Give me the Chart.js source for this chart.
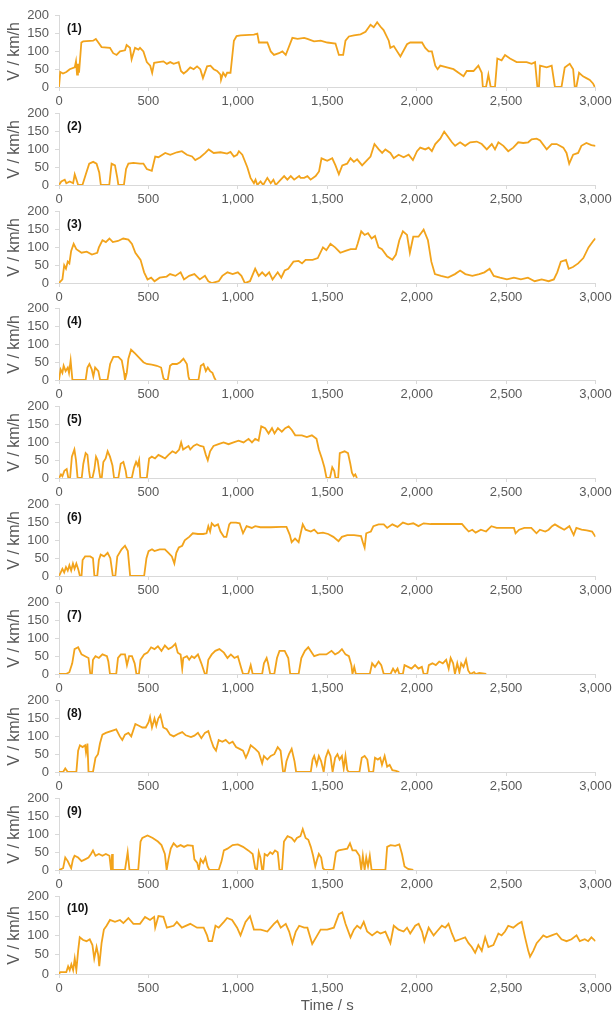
<!DOCTYPE html>
<html><head><meta charset="utf-8">
<script src="https://cdn.jsdelivr.net/npm/chart.js@4"></script>
<style>
html,body{margin:0;padding:0;background:#fff;overflow:hidden;width:613px;height:1015px;position:relative}
canvas{position:absolute;left:0}
</style></head><body>
<script>
// Speed (km/h) vs time (s) for ten driving cycles as [time, speed]
const cycle1=[[0,0],[7,42],[22,38],[41,42],[60,50],[88,55],[95,72],[101,35],[106,65],[112,40],[125,125],[135,128],[191,130],[206,135],[220,125],[238,112],[285,110],[303,95],[322,90],[341,100],[369,103],[378,118],[397,110],[406,78],[416,95],[425,110],[444,105],[453,110],[472,100],[491,70],[510,60],[521,40],[532,68],[556,70],[584,72],[603,65],[622,70],[641,65],[669,70],[682,45],[697,38],[715,45],[734,55],[753,50],[772,58],[790,50],[805,25],[828,58],[847,60],[865,50],[884,45],[903,35],[906,20],[918,40],[931,30],[940,40],[959,40],[978,130],[993,143],[1015,145],[1090,147],[1109,150],[1118,125],[1165,125],[1184,100],[1202,90],[1230,95],[1249,100],[1268,90],[1305,138],[1334,135],[1371,138],[1389,135],[1426,128],[1463,130],[1500,125],[1546,122],[1565,90],[1589,90],[1602,130],[1621,142],[1649,145],[1686,148],[1714,155],[1742,175],[1760,168],[1779,182],[1797,170],[1815,160],[1844,130],[1853,110],[1872,115],[1909,86],[1946,120],[1964,125],[2030,125],[2048,110],[2067,100],[2085,100],[2104,60],[2117,50],[2132,60],[2169,55],[2206,50],[2234,40],[2262,30],[2280,45],[2318,45],[2345,60],[2364,40],[2370,0],[2388,0],[2401,35],[2414,0],[2438,0],[2451,80],[2475,75],[2494,90],[2522,80],[2559,70],[2615,70],[2643,65],[2662,70],[2675,0],[2684,0],[2690,60],[2727,55],[2755,60],[2773,0],[2810,0],[2828,55],[2856,65],[2875,50],[2884,0],[2893,0],[2908,40],[2930,30],[2949,25],[2968,20],[2986,10],[2996,0]];
const cycle2=[[0,0],[13,10],[32,15],[41,5],[60,10],[79,5],[88,30],[101,10],[107,0],[131,0],[150,30],[169,60],[191,65],[210,60],[225,35],[234,0],[281,0],[294,60],[313,55],[326,20],[332,0],[363,0],[375,45],[388,60],[416,62],[453,60],[472,60],[491,45],[519,40],[538,80],[556,78],[594,90],[622,85],[659,92],[687,95],[715,85],[744,80],[762,70],[790,78],[818,90],[837,100],[865,90],[903,92],[940,88],[959,93],[978,80],[996,85],[1006,95],[1025,85],[1053,50],[1071,20],[1090,5],[1099,15],[1109,0],[1127,10],[1142,0],[1165,20],[1184,5],[1199,15],[1212,0],[1240,15],[1259,25],[1277,15],[1296,25],[1315,15],[1343,25],[1351,20],[1371,20],[1389,25],[1407,15],[1435,25],[1454,38],[1468,75],[1500,68],[1528,75],[1546,55],[1565,30],[1584,55],[1611,60],[1630,75],[1649,65],[1667,72],[1695,55],[1723,70],[1742,80],[1764,115],[1788,100],[1807,90],[1825,100],[1853,90],[1872,75],[1899,85],[1927,78],[1955,85],[1979,70],[2002,95],[2020,105],[2048,100],[2067,105],[2085,95],[2104,115],[2132,130],[2154,150],[2169,140],[2197,120],[2215,110],[2243,120],[2271,110],[2299,120],[2336,122],[2364,115],[2392,100],[2420,115],[2438,100],[2457,120],[2485,110],[2512,95],[2540,105],[2568,120],[2596,118],[2624,120],[2643,128],[2671,130],[2690,125],[2727,100],[2755,115],[2783,115],[2820,105],[2838,90],[2853,60],[2875,85],[2903,90],[2921,110],[2949,118],[2977,112],[3000,110]];
const cycle3=[[0,0],[19,10],[29,50],[39,40],[49,60],[58,55],[68,90],[82,110],[97,95],[126,85],[155,88],[184,80],[214,85],[223,100],[243,120],[262,115],[282,125],[301,115],[330,118],[359,125],[388,122],[408,110],[427,85],[456,65],[476,30],[495,10],[515,15],[534,5],[563,15],[602,18],[621,25],[651,20],[680,30],[699,10],[728,20],[757,25],[787,10],[816,20],[835,5],[854,0],[893,5],[913,20],[942,30],[971,25],[1000,30],[1020,20],[1039,0],[1068,5],[1097,40],[1117,20],[1136,30],[1155,20],[1175,30],[1194,10],[1223,30],[1243,15],[1262,35],[1282,40],[1311,60],[1340,62],[1359,55],[1379,65],[1418,65],[1447,70],[1476,100],[1495,92],[1518,110],[1544,100],[1573,85],[1602,90],[1631,95],[1660,95],[1670,110],[1690,145],[1709,135],[1728,140],[1748,125],[1767,132],[1787,100],[1806,95],[1835,75],[1864,65],[1884,80],[1903,120],[1923,145],[1946,135],[1962,85],[1981,130],[2010,130],[2039,150],[2063,120],[2082,60],[2102,25],[2136,20],[2175,15],[2214,25],[2243,35],[2272,25],[2311,20],[2350,25],[2379,30],[2408,40],[2431,20],[2466,15],[2505,10],[2544,15],[2583,10],[2622,15],[2660,5],[2699,10],[2738,5],[2767,10],[2786,30],[2806,60],[2835,65],[2850,40],[2874,45],[2903,55],[2932,70],[2961,100],[2990,120],[3000,125]];
const cycle4=[[0,0],[9,30],[19,20],[26,40],[37,25],[49,35],[56,20],[65,55],[75,0],[149,0],[159,35],[170,45],[183,30],[192,10],[202,35],[220,25],[230,0],[271,0],[286,45],[304,65],[332,65],[351,55],[364,20],[369,0],[379,20],[388,60],[403,85],[425,75],[453,60],[472,50],[491,45],[519,43],[547,40],[571,35],[584,5],[593,0],[608,0],[621,40],[634,45],[659,45],[677,50],[696,60],[715,45],[724,10],[730,0],[780,0],[793,40],[808,45],[821,25],[832,35],[845,25],[858,20],[870,5],[877,0]];
const cycle5=[[0,0],[11,10],[19,5],[30,20],[43,25],[52,0],[62,0],[72,60],[86,80],[95,50],[104,0],[127,0],[136,40],[149,70],[159,65],[168,20],[174,0],[187,0],[198,25],[207,60],[216,50],[226,15],[231,0],[239,0],[248,45],[261,55],[272,75],[285,60],[299,35],[308,0],[332,0],[345,40],[360,45],[373,20],[379,0],[407,0],[420,30],[431,45],[440,35],[448,50],[455,0],[491,0],[504,55],[519,60],[537,55],[556,65],[575,60],[593,55],[612,65],[634,75],[653,70],[672,80],[683,100],[694,80],[709,85],[724,90],[734,80],[752,90],[771,95],[790,90],[808,88],[821,65],[832,50],[845,75],[864,90],[892,95],[920,100],[948,95],[976,100],[1004,105],[1032,100],[1060,110],[1079,100],[1097,110],[1116,105],[1131,145],[1153,140],[1172,125],[1191,140],[1205,125],[1224,140],[1246,130],[1265,140],[1284,145],[1302,135],[1321,120],[1358,120],[1386,115],[1414,120],[1440,110],[1453,80],[1470,55],[1484,30],[1496,0],[1515,0],[1528,30],[1539,20],[1546,0],[1561,0],[1570,70],[1597,75],[1616,70],[1629,40],[1638,15],[1648,5],[1657,10],[1666,0]];
const cycle6=[[0,0],[10,10],[19,20],[29,10],[39,25],[49,15],[58,30],[68,15],[78,35],[87,20],[97,35],[107,20],[117,0],[126,0],[132,45],[146,55],[175,55],[190,50],[198,0],[214,0],[223,45],[233,60],[252,55],[272,65],[287,50],[301,0],[315,0],[326,55],[350,75],[369,85],[385,70],[398,0],[476,0],[489,50],[501,70],[520,75],[534,70],[563,75],[592,75],[612,65],[631,55],[645,35],[656,65],[670,80],[689,85],[703,100],[728,110],[748,120],[777,118],[806,118],[825,120],[835,140],[845,125],[854,148],[870,140],[889,145],[903,125],[922,110],[936,110],[952,145],[961,150],[990,150],[1010,148],[1029,120],[1049,140],[1078,135],[1097,140],[1126,137],[1184,137],[1243,138],[1272,138],[1291,115],[1301,95],[1320,105],[1340,95],[1363,145],[1379,130],[1408,125],[1427,130],[1447,120],[1476,122],[1505,118],[1534,110],[1563,98],[1582,110],[1612,115],[1650,115],[1689,112],[1699,95],[1709,80],[1718,120],[1744,125],[1758,140],[1787,145],[1816,145],[1835,135],[1864,145],[1893,138],[1923,150],[1952,145],[1981,148],[2010,140],[2039,148],[2078,146],[2156,146],[2253,146],[2272,135],[2291,125],[2311,130],[2330,122],[2359,130],[2388,125],[2418,140],[2447,135],[2505,135],[2544,135],[2553,120],[2573,130],[2602,135],[2641,135],[2670,120],[2689,130],[2719,125],[2738,130],[2757,140],[2773,145],[2796,138],[2825,130],[2854,140],[2878,115],[2893,135],[2922,130],[2951,128],[2981,125],[3000,110]];
const cycle7=[[0,0],[39,0],[58,5],[74,30],[87,70],[107,75],[126,55],[146,50],[165,45],[175,0],[184,0],[190,40],[204,50],[223,45],[243,55],[268,50],[276,35],[285,0],[320,0],[330,45],[346,55],[369,55],[380,25],[392,50],[408,50],[423,30],[433,0],[447,0],[456,40],[476,55],[495,60],[515,75],[534,70],[553,78],[573,65],[592,80],[612,70],[631,75],[651,85],[664,60],[680,55],[689,15],[695,45],[715,50],[728,40],[742,50],[757,45],[777,55],[796,30],[816,0],[825,0],[835,40],[854,55],[874,65],[897,70],[922,60],[942,45],[961,55],[981,45],[1000,50],[1020,15],[1029,0],[1058,0],[1072,25],[1083,0],[1136,0],[1146,30],[1161,45],[1169,30],[1181,0],[1204,0],[1219,45],[1233,65],[1262,65],[1282,45],[1293,0],[1340,0],[1355,45],[1375,65],[1394,75],[1414,60],[1427,50],[1456,55],[1495,55],[1524,65],[1544,55],[1563,60],[1582,70],[1602,55],[1621,50],[1635,25],[1641,0],[1651,20],[1660,0],[1738,0],[1751,30],[1767,20],[1787,35],[1802,25],[1816,0],[1854,0],[1868,15],[1880,5],[1893,15],[1903,0],[1923,0],[1932,25],[1952,20],[1971,15],[1991,25],[2010,15],[2029,20],[2039,0],[2059,0],[2068,25],[2088,30],[2107,25],[2126,35],[2146,30],[2165,40],[2179,15],[2190,45],[2204,30],[2214,0],[2227,30],[2239,5],[2249,30],[2262,20],[2276,40],[2288,10],[2301,0],[2321,5],[2330,0],[2350,3],[2389,0]];
const cycle8=[[0,0],[23,0],[35,10],[49,0],[97,0],[107,60],[117,75],[132,70],[146,75],[151,55],[159,80],[165,0],[190,0],[204,40],[218,50],[229,80],[243,105],[262,110],[291,115],[320,120],[340,100],[354,90],[369,105],[388,110],[404,100],[427,135],[447,130],[466,125],[485,125],[501,140],[509,155],[520,125],[534,150],[544,130],[555,150],[567,160],[583,125],[602,120],[621,105],[641,100],[670,108],[689,112],[709,103],[738,98],[757,102],[777,110],[796,95],[816,110],[835,115],[850,90],[864,70],[878,60],[893,90],[913,85],[932,90],[952,80],[971,85],[990,70],[1010,65],[1029,60],[1045,40],[1058,55],[1072,75],[1097,65],[1117,55],[1136,25],[1146,45],[1165,35],[1184,45],[1204,50],[1223,70],[1239,60],[1253,0],[1262,0],[1272,30],[1286,50],[1301,65],[1317,30],[1326,0],[1408,0],[1418,35],[1427,45],[1441,20],[1453,45],[1466,30],[1480,0],[1491,40],[1505,60],[1518,45],[1530,0],[1544,40],[1557,50],[1569,35],[1582,45],[1592,10],[1602,45],[1612,5],[1621,0],[1680,0],[1693,40],[1709,45],[1724,35],[1734,0],[1757,0],[1767,40],[1783,35],[1796,40],[1806,20],[1821,45],[1835,15],[1849,20],[1864,5],[1884,3],[1903,0]];
const cycle9=[[0,0],[23,5],[35,35],[49,25],[58,15],[68,5],[78,30],[87,40],[107,35],[126,25],[146,30],[165,35],[179,45],[190,55],[204,40],[223,45],[243,40],[262,45],[282,40],[291,0],[297,45],[301,0],[369,0],[384,50],[394,0],[443,0],[456,80],[466,90],[495,97],[524,90],[553,80],[573,70],[592,45],[602,0],[612,30],[625,60],[641,75],[660,65],[680,70],[699,65],[718,70],[748,68],[757,30],[773,20],[782,0],[792,30],[806,20],[819,35],[831,10],[841,0],[893,0],[909,25],[922,55],[942,60],[971,70],[1000,72],[1029,65],[1058,55],[1083,45],[1097,5],[1107,0],[1117,50],[1126,35],[1136,0],[1142,0],[1150,45],[1165,40],[1181,50],[1194,45],[1208,55],[1223,50],[1233,0],[1247,0],[1258,80],[1278,95],[1301,90],[1317,80],[1330,90],[1350,95],[1363,115],[1379,90],[1394,85],[1408,65],[1421,40],[1433,10],[1441,25],[1453,45],[1466,35],[1476,5],[1486,0],[1534,0],[1549,50],[1563,55],[1592,58],[1612,60],[1627,75],[1641,55],[1660,55],[1680,40],[1690,0],[1699,40],[1709,0],[1718,35],[1728,10],[1738,40],[1748,0],[1825,0],[1835,65],[1854,70],[1880,68],[1903,72],[1918,45],[1932,10],[1952,3],[1981,0]];
const cycle10=[[0,0],[7,5],[41,5],[51,20],[60,10],[69,25],[79,10],[88,40],[97,10],[107,60],[116,95],[135,88],[154,85],[172,90],[187,75],[197,40],[210,70],[219,50],[225,20],[238,80],[251,115],[266,125],[285,140],[313,135],[341,140],[360,132],[388,145],[416,130],[453,130],[481,148],[509,140],[532,148],[538,120],[556,150],[584,148],[603,120],[641,125],[659,135],[687,120],[734,130],[772,120],[809,120],[828,100],[837,85],[856,85],[875,125],[893,120],[922,135],[940,145],[968,140],[996,120],[1015,100],[1043,135],[1068,150],[1090,115],[1128,115],[1165,110],[1202,130],[1221,138],[1240,120],[1268,130],[1287,110],[1305,80],[1324,110],[1343,125],[1371,120],[1389,120],[1416,78],[1444,100],[1463,115],[1500,115],[1537,120],[1565,155],[1584,160],[1602,130],[1630,95],[1649,115],[1667,125],[1686,118],[1704,135],[1723,110],[1751,100],[1779,110],[1797,105],[1825,110],[1853,80],[1872,125],[1899,115],[1927,110],[1946,120],[1964,105],[1992,125],[2011,130],[2030,110],[2043,85],[2067,120],[2095,100],[2113,110],[2141,125],[2160,120],[2178,130],[2197,105],[2215,85],[2243,90],[2271,95],[2290,80],[2308,70],[2327,55],[2345,75],[2364,60],[2383,95],[2401,70],[2429,75],[2457,105],[2475,100],[2494,110],[2512,125],[2540,120],[2568,130],[2587,135],[2606,95],[2624,60],[2634,45],[2652,60],[2671,80],[2690,90],[2708,100],[2727,95],[2755,100],[2783,105],[2810,90],[2838,85],[2866,90],[2894,100],[2912,85],[2940,90],[2959,85],[2977,95],[3000,85]];

const cycles=[cycle1,cycle2,cycle3,cycle4,cycle5,cycle6,cycle7,cycle8,cycle9,cycle10];
const panelLabels=['(1)','(2)','(3)','(4)','(5)','(6)','(7)','(8)','(9)','(10)'];
const yAxisTitle='V / km/h';
const xAxisTitle='Time / s';

Chart.defaults.font.family='"Liberation Sans", Arial, Helvetica, sans-serif';
Chart.defaults.color='#595959';

const panelLabelPlugin={
  id:'panelLabel',
  afterDraw(chart,args,opts){
    const {ctx,chartArea}=chart;
    ctx.save();
    ctx.font='bold 12px "Liberation Sans", Arial, sans-serif';
    ctx.fillStyle='#111';
    ctx.textBaseline='middle';
    ctx.textAlign='left';
    ctx.fillText(opts.text,chartArea.left+8,chartArea.top+opts.dy);
    ctx.restore();
  }
};

const CW=640, LEFT=59, RIGHT=595.5, T=12;
cycles.forEach((data,i)=>{
  const last=i===9;
  const zero=last?974:86.7+97.9*i;
  const plotH=last?79:73;
  const xH=last?45:22;
  const top=Math.round(zero-plotH-T);
  const h=Math.round(zero)-top+xH;
  const cv=document.createElement('canvas');
  cv.width=CW; cv.height=h;
  cv.style.top=top+'px';
  cv.style.width=CW+'px'; cv.style.height=h+'px';
  document.body.appendChild(cv);
  const tp=Math.round(zero)-top-plotH;
  new Chart(cv,{
    type:'line',
    data:{datasets:[{
      data:data.map(p=>({x:p[0],y:p[1]})),
      borderColor:'#F2A31B',borderWidth:1.8,pointRadius:0,fill:false,tension:0
    }]},
    options:{
      responsive:false,animation:false,devicePixelRatio:1,
      layout:{padding:{left:0,right:CW-RIGHT,top:tp,bottom:0}},
      plugins:{legend:{display:false},tooltip:{enabled:false},
        panelLabel:{text:panelLabels[i],dy:last?12:13}},
      scales:{
        x:{type:'linear',min:0,max:3000,
          ticks:{stepSize:500,maxRotation:0,autoSkip:false,padding:3,color:'#595959',font:{size:13},
            callback:v=>v.toLocaleString('en-US')},
          grid:{drawOnChartArea:false,drawTicks:true,tickLength:4,color:'#d9d9d9'},
          border:{display:true,color:'#d9d9d9'},
          title:{display:last,text:xAxisTitle,color:'#595959',font:{size:15},padding:{top:2,bottom:4}},
          afterFit(s){s.height=xH;}
        },
        y:{min:0,max:200,
          ticks:{stepSize:50,autoSkip:false,padding:6,color:'#595959',font:{size:13}},
          grid:{drawOnChartArea:false,drawTicks:true,tickLength:4,color:'#d9d9d9'},
          border:{display:true,color:'#d9d9d9'},
          title:{display:true,text:yAxisTitle,color:'#595959',font:{size:16},padding:{top:5,bottom:0}},
          afterFit(s){s.width=LEFT;}
        }
      }
    },
    plugins:[panelLabelPlugin]
  });
});
</script>
</body></html>
